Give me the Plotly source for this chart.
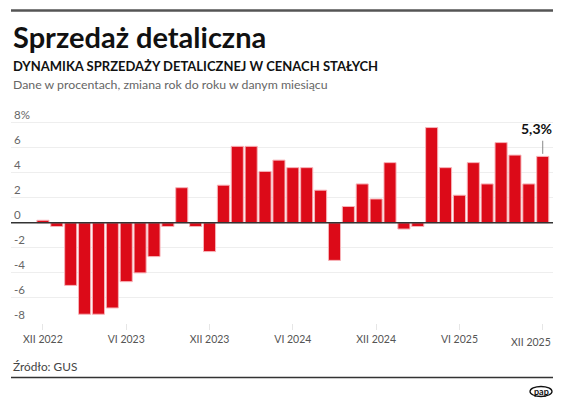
import plotly.graph_objects as go

months = ["XII 2022",
          "I 2023", "II 2023", "III 2023", "IV 2023", "V 2023", "VI 2023",
          "VII 2023", "VIII 2023", "IX 2023", "X 2023", "XI 2023", "XII 2023",
          "I 2024", "II 2024", "III 2024", "IV 2024", "V 2024", "VI 2024",
          "VII 2024", "VIII 2024", "IX 2024", "X 2024", "XI 2024", "XII 2024",
          "I 2025", "II 2025", "III 2025", "IV 2025", "V 2025", "VI 2025",
          "VII 2025", "VIII 2025", "IX 2025", "X 2025", "XI 2025", "XII 2025"]
values = [0.2,
          -0.3, -5.0, -7.3, -7.3, -6.8, -4.7,
          -4.0, -2.7, -0.3, 2.8, -0.3, -2.3,
          3.0, 6.1, 6.1, 4.1, 5.0, 4.4,
          4.4, 2.6, -3.0, 1.3, 3.1, 1.9,
          4.8, -0.5, -0.3, 7.6, 4.4, 2.2,
          4.8, 3.1, 6.4, 5.4, 3.1, 5.3]
x_ticks = ["XII 2022", "VI 2023", "XII 2023", "VI 2024", "XII 2024", "VI 2025", "XII 2025"]
y_ticks = [-8, -6, -4, -2, 0, 2, 4, 6, 8]
y_tick_text = ["-8", "-6", "-4", "-2", "0", "2", "4", "6", "8%"]

title = "Sprzedaż detaliczna"
subtitle = "DYNAMIKA SPRZEDAŻY DETALICZNEJ W CENACH STAŁYCH"
description = "Dane w procentach, zmiana rok do roku w danym miesiącu"
source = "Źródło: GUS"
last_label = "5,3%"

FONT = "Lato"

# The page body adds an 8 px offset; layout is expressed in window pixels below.
OFF = 8
W, H = 564 - OFF, 406 - OFF
PL, PR = 11, 553          # plot area left/right (window px)
Y_TOP = 9.8
PB = 323.0                # plot bottom (y=-8) in window px
UNIT = (323.0 - 122.5) / 16.0
PT = PB - (Y_TOP + 8) * UNIT


def px(X):
    return (X - PL) / (PR - PL)


def py(Y):
    return (PB - Y) / (PB - PT)


fig = go.Figure()
fig.add_trace(go.Bar(
    x=months, y=values,
    marker=dict(color="#dc0a18", line=dict(color="#f7b3b8", width=1)),
    hoverinfo="skip",
))

fig.update_layout(
    width=W, height=H,
    margin=dict(l=PL - OFF, r=W + OFF - PR, t=PT - OFF, b=H + OFF - PB, autoexpand=False),
    paper_bgcolor="white", plot_bgcolor="white",
    bargap=0.13,
    showlegend=False,
    font=dict(family=FONT, color="#555"),
    xaxis=dict(
        type="category",
        range=[-2.3, 36.74],
        tickmode="array", tickvals=x_ticks,
        ticktext=x_ticks[:-1] + [""],
        ticks="outside", ticklen=6, tickcolor="#e6e6e6", tickwidth=1,
        showgrid=False, showline=False, zeroline=False,
        tickfont=dict(size=10.5, color="#555", family=FONT),
    ),
    yaxis=dict(
        range=[-8, Y_TOP],
        tickmode="array", tickvals=y_ticks, ticktext=y_tick_text,
        ticklabelposition="inside top",
        showgrid=True, gridcolor="#eeeeee", gridwidth=1,
        zeroline=False, showline=False, ticks="",
        tickfont=dict(size=11.5, color="#666", family=FONT),
    ),
)

# last x tick label, right-aligned to the plot edge
fig.add_annotation(x=1, y=py(342), xref="paper", yref="paper", text=x_ticks[-1],
                   showarrow=False, xanchor="right", yanchor="middle",
                   font=dict(size=10.5, color="#555", family=FONT))

# zero line
fig.add_shape(type="line", xref="paper", yref="y", x0=0, x1=1, y0=0, y1=0,
              line=dict(color="#333", width=1.5))
# leader line for last value
fig.add_shape(type="line", xref="x", yref="y", x0=months[-1], x1=months[-1],
              y0=values[-1] + 0.2, y1=values[-1] + 1.25,
              line=dict(color="#888", width=1))
fig.add_annotation(x=months[-1], y=values[-1] + 1.4, xref="x", yref="y",
                   text="<b>" + last_label + "</b>", showarrow=False,
                   xanchor="right", yanchor="bottom", xshift=11,
                   font=dict(size=14, color="#111", family=FONT))

# header rule
fig.add_shape(type="line", xref="paper", yref="paper", x0=0, x1=1,
              y0=py(10.5), y1=py(10.5), line=dict(color="#555", width=2.5))

fig.add_annotation(x=0, y=py(36), xref="paper", yref="paper", text="<b>" + title + "</b>",
                   showarrow=False, xanchor="left", yanchor="middle",
                   font=dict(size=29, color="#111", family=FONT))
fig.add_annotation(x=0, y=py(66), xref="paper", yref="paper", text="<b>" + subtitle + "</b>",
                   showarrow=False, xanchor="left", yanchor="middle",
                   font=dict(size=13, color="#111", family=FONT))
fig.add_annotation(x=0, y=py(84), xref="paper", yref="paper", text=description,
                   showarrow=False, xanchor="left", yanchor="middle",
                   font=dict(size=12.3, color="#666", family=FONT))
fig.add_annotation(x=0, y=py(366.5), xref="paper", yref="paper", text=source,
                   showarrow=False, xanchor="left", yanchor="middle",
                   font=dict(size=11.8, color="#444", family=FONT))
# footer rule
fig.add_shape(type="line", xref="paper", yref="paper", x0=0, x1=1,
              y0=py(377.5), y1=py(377.5), line=dict(color="#333", width=1.5))
# pap logo
fig.add_shape(type="circle", xref="paper", yref="paper",
              x0=px(530), x1=px(552), y0=py(396.5), y1=py(386.5),
              line=dict(color="#111", width=1.3), fillcolor="white")
fig.add_annotation(x=px(541), y=py(391.5), xref="paper", yref="paper",
                   text="<b>pap</b>", showarrow=False, xanchor="center", yanchor="middle",
                   font=dict(size=9, color="#111", family=FONT))

fig.write_html("out.html")
